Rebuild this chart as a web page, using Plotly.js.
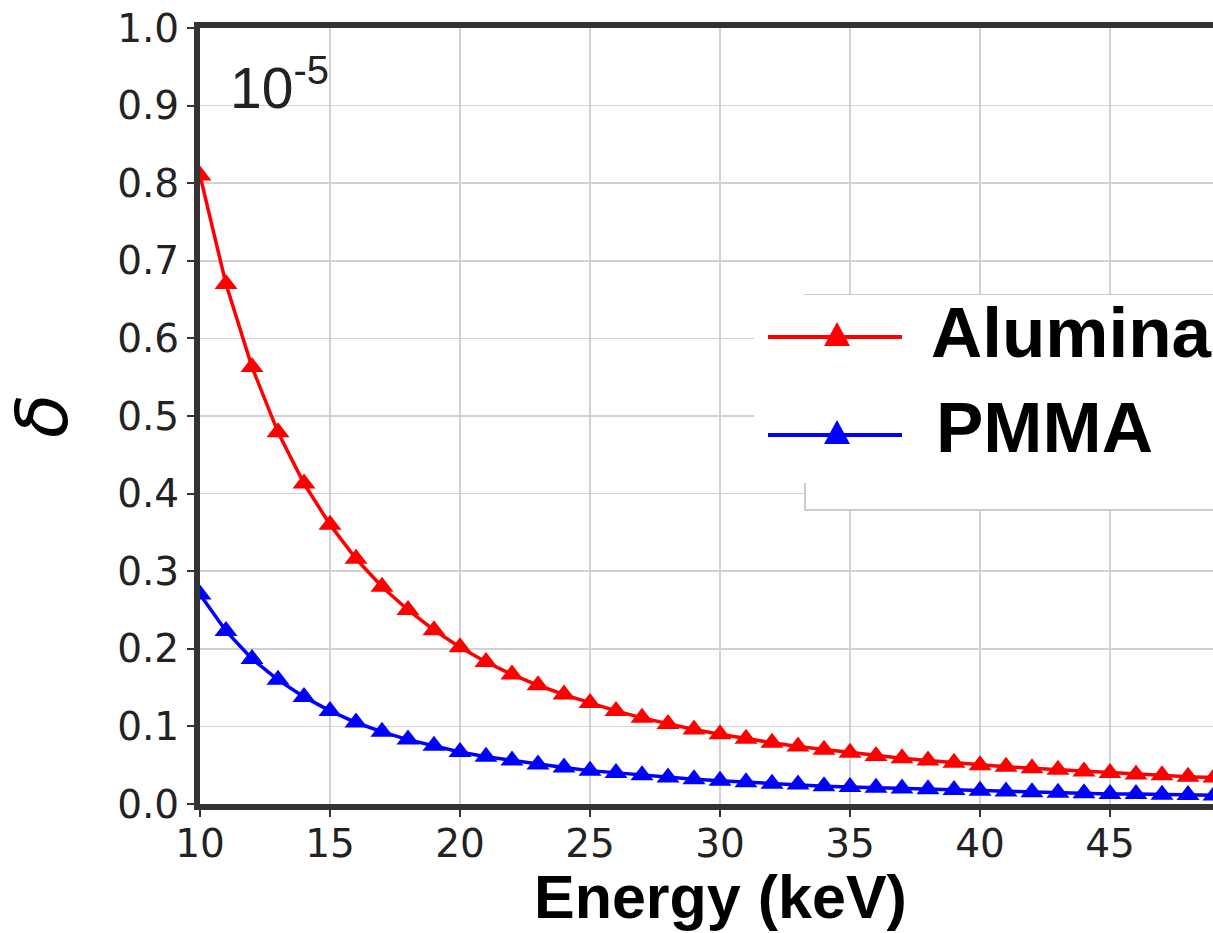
<!DOCTYPE html>
<html>
<head>
<meta charset="utf-8">
<script src="https://cdn.plot.ly/plotly-3.0.1.min.js"></script>
<style>html,body{margin:0;padding:0;background:#fff;}#chart{width:1213px;height:933px;}</style>
</head>
<body>
<div id="chart"></div>
<script>
// Data (delta in units of 1e-5)
const energy = [10,11,12,13,14,15,16,17,18,19,20,21,22,23,24,25,26,27,28,29,30,31,32,33,34,35,36,37,38,39,40,41,42,43,44,45,46,47,48,49,50];
const alumina = [0.81,0.67,0.563,0.479,0.413,0.36,0.316,0.28,0.25,0.224,0.202,0.183,0.167,0.153,0.141,0.13,0.12,0.111,0.103,0.096,0.09,0.084,0.079,0.074,0.07,0.066,0.062,0.059,0.056,0.053,0.05,0.048,0.046,0.044,0.042,0.04,0.038,0.037,0.035,0.034,0.032];
const pmma = [0.27,0.223,0.187,0.16,0.138,0.12,0.105,0.093,0.083,0.075,0.067,0.061,0.056,0.051,0.047,0.043,0.04,0.037,0.034,0.032,0.03,0.028,0.026,0.025,0.023,0.022,0.021,0.02,0.019,0.018,0.017,0.016,0.015,0.0145,0.014,0.013,0.0128,0.012,0.0117,0.011,0.0108];
const seriesNames = ['Alumina', 'PMMA'];
const seriesColors = ['#ff0000', '#0000ff'];
const xTickVals = [10,15,20,25,30,35,40,45];
const yTickVals = [0,0.1,0.2,0.3,0.4,0.5,0.6,0.7,0.8,0.9,1.0];
const xTitle = 'Energy (keV)';
const yTitle = 'δ';
const scaleNote = '10<sup>-5</sup>';

// geometry helpers (pixel -> paper) for legend / label decoration
const W = 1213, H = 933, ML = 200, MR = 0, MT = 28, MB = 129;
const PW = W - ML - MR, PH = H - MT - MB;
const px = v => (v - ML) / PW;
const py = v => (H - MB - v) / PH;

const traces = [alumina, pmma].map((ys, i) => ({
  x: energy, y: ys, type: 'scatter', mode: 'lines+markers', name: seriesNames[i],
  line: {color: seriesColors[i], width: 3.5},
  marker: {symbol: 'triangle-up', size: 20, color: seriesColors[i]},
  cliponaxis: true
}));

// manual legend (long line samples like the reference)
const shapes = [];
const annotations = [];
shapes.push({type: 'rect', xref: 'paper', yref: 'paper', x0: px(805), x1: px(1230), y0: py(510), y1: py(295),
  fillcolor: '#ffffff', line: {color: '#cccccc', width: 2}, layer: 'above'});
shapes.push({type: 'rect', xref: 'paper', yref: 'paper', x0: px(754), x1: px(1230), y0: py(483), y1: py(295),
  fillcolor: '#ffffff', line: {width: 0}, layer: 'above'});
const rowY = [337, 435];
const textY = [332, 428];
const textX = [929, 934];
seriesNames.forEach((n, i) => {
  shapes.push({type: 'line', xref: 'paper', yref: 'paper', x0: px(768), x1: px(902), y0: py(rowY[i]), y1: py(rowY[i]),
    line: {color: seriesColors[i], width: 4}, layer: 'above'});
  const cx = 837, cy = rowY[i];
  const p = 'M ' + px(cx - 13) + ' ' + py(cy + 9) + ' L ' + px(cx + 13) + ' ' + py(cy + 9) + ' L ' + px(cx) + ' ' + py(cy - 15) + ' Z';
  shapes.push({type: 'path', xref: 'paper', yref: 'paper', path: p, fillcolor: seriesColors[i], line: {width: 0}, layer: 'above'});
  annotations.push({xref: 'paper', yref: 'paper', x: px(textX[i]), y: py(textY[i]), xanchor: 'left', yanchor: 'middle',
    text: '<b>' + n + '</b>', showarrow: false,
    font: {family: 'Liberation Sans, Arial, sans-serif', size: 71, color: '#000000'}});
});
annotations.push({xref: 'paper', yref: 'paper', x: px(228), y: py(46), xanchor: 'left', yanchor: 'top',
  text: scaleNote, showarrow: false,
  font: {family: 'Liberation Sans, Arial, sans-serif', size: 57, color: '#222222'}});
// x-axis title, centred where the original (uncropped) axis centre was
annotations.push({xref: 'paper', yref: 'paper', x: px(720), y: py(932), xanchor: 'center', yanchor: 'bottom',
  borderpad: 0, text: '<b>' + xTitle + '</b>', showarrow: false,
  font: {family: 'Liberation Sans, Arial, sans-serif', size: 61, color: '#000000'}});

const layout = {
  width: W, height: H,
  margin: {l: ML, r: MR, t: MT, b: MB, pad: 0},
  paper_bgcolor: '#ffffff', plot_bgcolor: '#ffffff',
  showlegend: false,
  font: {family: 'DejaVu Sans, sans-serif', color: '#222222'},
  xaxis: {
    range: [10, 10 + 1013 / 26], tickvals: xTickVals, ticktext: xTickVals.map(String),
    showgrid: true, gridcolor: '#d2d2d2', gridwidth: 1.5,
    showline: true, linecolor: '#333333', linewidth: 6, mirror: true,
    ticks: 'outside', ticklen: 7, tickwidth: 2, tickcolor: '#333333',
    tickfont: {family: 'DejaVu Sans, sans-serif', size: 39, color: '#222222'},
    ticklabelstandoff: -7,
    zeroline: false
  },
  yaxis: {
    range: [0, 1], tickvals: yTickVals, ticktext: yTickVals.map(v => v.toFixed(1)),
    showgrid: true, gridcolor: '#d2d2d2', gridwidth: 1.5,
    showline: true, linecolor: '#333333', linewidth: 6,
    ticks: 'outside', ticklen: 7, tickwidth: 2, tickcolor: '#333333',
    tickfont: {family: 'DejaVu Sans, sans-serif', size: 39, color: '#222222'},
    zeroline: false,
    title: {text: yTitle, standoff: 30,
      font: {family: 'DejaVu Sans, sans-serif', size: 72, color: '#000000', style: 'italic'}}
  },
  shapes: shapes,
  annotations: annotations
};

Plotly.newPlot('chart', traces, layout, {staticPlot: true, displayModeBar: false});
</script>
</body>
</html>
